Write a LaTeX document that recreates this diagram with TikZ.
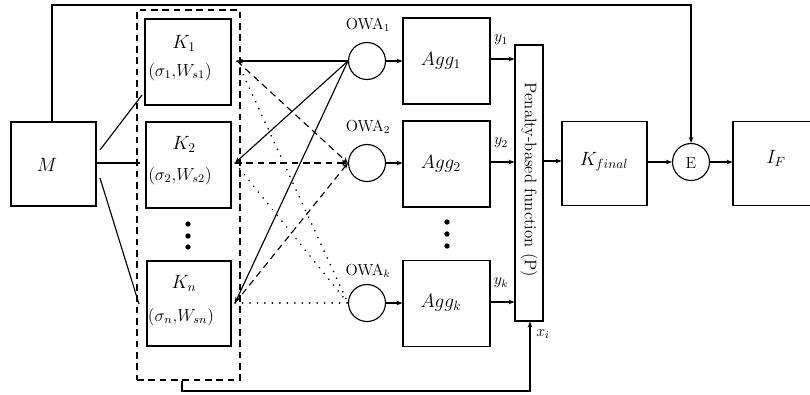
\documentclass[tikz,border=0pt]{standalone}
\usetikzlibrary{arrows.meta}
\begin{document}
\begin{tikzpicture}[x=0.75pt,y=-0.75pt,line width=0.85pt,
  box/.style={draw,rectangle,inner sep=0pt},
  circ/.style={draw,circle,minimum size=27.75pt,inner sep=0pt},
  tip/.style={-{Stealth[length=4.5pt,width=3.5pt]}},
  rtip/.style={{Stealth[length=4.5pt,width=3.5pt]}-},
  dsh/.style={dash pattern=on 5pt off 3.5pt},
  dtt/.style={dash pattern=on 0.1pt off 5.5pt,line cap=round,line width=1.3pt},
  big/.style={font=\fontsize{14.4}{16}\selectfont},
  mid/.style={font=\fontsize{12}{14}\selectfont,scale=1.09},
  pen/.style={font=\fontsize{12.6}{14}\selectfont},
  sml/.style={font=\fontsize{12}{14}\selectfont},
  dot/.style={fill,circle,inner sep=0pt,minimum size=4pt}]
\useasboundingbox (0,0) rectangle (810,394);

% boxes
\node[box,minimum width=63.75pt,minimum height=63pt] (M) at (53.5,164) {};
\node[big] (Mt) at (47,165) {$M$};

\node[box,dash pattern=on 5pt off 3.5pt,minimum width=77.25pt,minimum height=277.5pt] (cont) at (188.5,195) {};

\node[box,minimum width=64.5pt,minimum height=64.5pt] (K1) at (188,62) {};
\node[big] (K1t) at (184,43) {$K_1$};
\node[mid] (K1s) at (180,72) {$(\sigma_1{,}W_{s1})$};

\node[box,minimum width=63.75pt,minimum height=64.5pt] (K2) at (188.5,165) {};
\node[big] (K2t) at (184,144) {$K_2$};
\node[mid] (K2s) at (180,176) {$(\sigma_2{,}W_{s2})$};

\node[dot] (d1) at (188,224) {};
\node[dot] (d2) at (188,236) {};
\node[dot] (d3) at (188,247) {};

\node[box,minimum width=63pt,minimum height=63.75pt] (Kn) at (189,303.5) {};
\node[big] (Knt) at (184,283) {$K_n$};
\node[mid] (Kns) at (181,317) {$(\sigma_n{,}W_{sn})$};

% OWA
\node[circ] (O1) at (367,61) {};
\node[sml] (O1t) at (368,25) {OWA$_1$};
\node[circ] (O2) at (367,163) {};
\node[sml] (O2t) at (368,127) {OWA$_2$};
\node[circ] (Ok) at (367,303) {};
\node[sml] (Okt) at (368,271) {OWA$_k$};

% Agg
\node[box,minimum width=65.25pt,minimum height=64.5pt] (A1) at (446.5,61) {};
\node[big] (A1t) at (441,61) {$Agg_1$};
\node[box,minimum width=65.25pt,minimum height=64.5pt] (A2) at (446.5,164) {};
\node[big] (A2t) at (441,164) {$Agg_2$};
\node[box,minimum width=65.25pt,minimum height=64.5pt] (Ak) at (446.5,303.5) {};
\node[big] (Akt) at (441,303) {$Agg_k$};
\node[dot] (e1) at (447,222) {};
\node[dot] (e2) at (447,234) {};
\node[dot] (e3) at (447,246) {};

% P
\node[box,minimum width=21pt,minimum height=207pt] (P) at (529,183) {};
\node[pen,rotate=-90] (Pt) at (529,180) {Penalty-based function (P)};

\node[box,minimum width=63.75pt,minimum height=63pt] (Kf) at (604.5,163.5) {};
\node[big] (Kft) at (604,162) {$K_{final}$};
\node[circ] (E) at (691,162) {};
\node[sml] (Et) at (691,163) {E};
\node[box,minimum width=65.25pt,minimum height=63pt] (IF) at (776.5,163.5) {};
\node[big] (IFt) at (776,158) {$I_F$};

% points
\coordinate (m1) at (100,150);
\coordinate (m2) at (96,163);
\coordinate (m3) at (100,178);
\coordinate (k1l) at (142,95);
\coordinate (k2l) at (140,163);
\coordinate (knl) at (139,304);
\coordinate (k1r) at (237,61);
\coordinate (k2r) at (235,163);
\coordinate (knr) at (235,303);

\draw (m1) -- (k1l);
\draw (m2) -- (k2l);
\draw (m3) -- (knl);

% solid to OWA1
\draw[rtip] (k1r) -- (O1.west);
\draw[rtip] (k2r) -- (O1.west);
\draw[rtip] (knr) -- (O1.west);
% dashed to OWA2
\draw[tip,dsh] (k1r) -- (O2.west);
\draw[tip,dsh] (k2r) -- (O2.west);
\draw[tip,dsh] (knr) -- (O2.west);
% dotted to OWAk
\draw[dtt] (k1r) -- (Ok.west);
\draw[dtt] (k2r) -- (Ok.west);
\draw[dtt] (knr) -- (Ok.west);

% OWA -> Agg
\draw[tip] (O1.east) -- (A1.west |- O1.east);
\draw[tip] (O2.east) -- (A2.west |- O2.east);
\draw[tip] (Ok.east) -- (Ak.west |- Ok.east);

% Agg -> P
\draw[tip] (A1.east |- 0,59) -- (P.west |- 0,59);
\draw[tip] (A2.east |- 0,162) -- (P.west |- 0,162);
\draw[tip] (Ak.east |- 0,302) -- (P.west |- 0,302);
\node[sml] (y1) at (501,40) {$y_1$};
\node[sml] (y2) at (501,143) {$y_2$};
\node[sml] (yk) at (501,283) {$y_k$};

% P -> Kf -> E -> IF
\draw[tip] (P.east |- 0,161) -- (Kf.west |- 0,161);
\draw[tip] (Kf.east |- E.west) -- (E.west);
\draw[tip] (E.east) -- (IF.west |- E.east);

% top feedback
\coordinate (topc) at (52,5);
\draw[tip] (M.north -| topc) -- (topc) -| (E.north);

% bottom feedback
\coordinate (bot) at (182,391);
\coordinate (px) at (530,391);
\draw[tip] (cont.south -| bot) -- (bot) -- (px) -- (P.south -| px);
\node[sml] (xi) at (543,334) {$x_i$};
\end{tikzpicture}
\end{document}
